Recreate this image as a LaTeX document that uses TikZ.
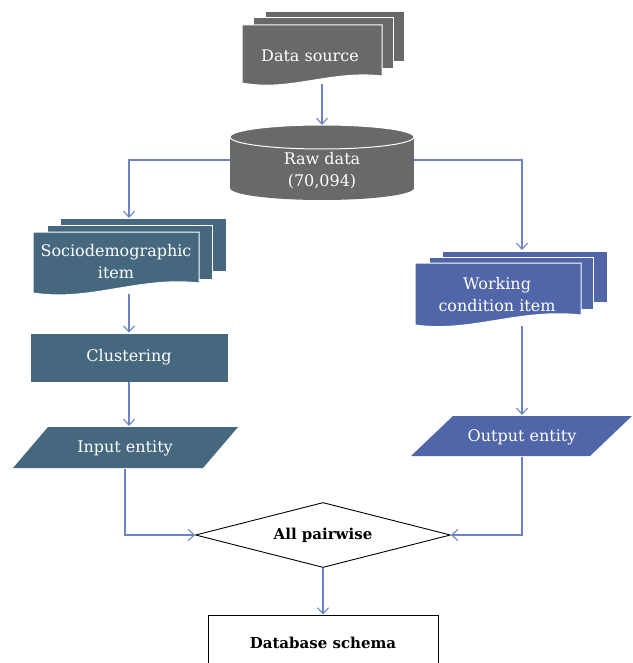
\documentclass[tikz,border=0pt]{standalone}
\usepackage{fontspec}
\setmainfont{DejaVu Serif}
\usetikzlibrary{shapes.geometric,arrows.meta}
\definecolor{graybox}{HTML}{696969}
\definecolor{tealbox}{HTML}{46687F}
\definecolor{bluebox}{HTML}{5066A8}
\definecolor{conncol}{HTML}{6C84C6}
\begin{document}
\begin{tikzpicture}[x=1pt,y=-1pt,
  font=\fontsize{16}{22}\selectfont,
  conn/.style={draw=conncol, line width=1.1pt, -{Straight Barb[length=6pt,width=11pt]}},
  sheet/.style={draw=white, line width=1pt},
  lbl/.style={text=white, align=center, inner sep=0pt},
  blk/.style={text=black, align=center, font=\fontsize{15}{22}\selectfont\bfseries}]
\useasboundingbox (0,0) rectangle (632,663);
\clip (0,0) rectangle (632,663);
% ---------- Data source ----------
\fill[graybox,sheet] (265,12) rectangle (404,62);
\fill[graybox,sheet] (253,18) rectangle (393,69);
\fill[graybox,sheet] (242,25) -- (382,25) -- (382,76) .. controls (330,70) and (290,92) .. (242,83) -- cycle;
\node[lbl] (ds) at (310,56) {Data source};
\coordinate (dsb) at (322,84);
% ---------- Raw data cylinder ----------
\fill[graybox] (322,188) ellipse [x radius=92, y radius=12];
\fill[graybox] (230,137) rectangle (414,188);
\filldraw[fill=graybox, draw=white, line width=1pt] (322,137) ellipse [x radius=92, y radius=12];
\node[lbl] (raw) at (322,171) {Raw data\\(70,094)};
\coordinate (rawt) at (322,125);
\coordinate (rawl) at (230,160);
\coordinate (rawr) at (414,160);
% ---------- Sociodemographic ----------
\fill[tealbox,sheet] (60,218) rectangle (226,271);
\fill[tealbox,sheet] (47,225) rectangle (212,279);
\fill[tealbox,sheet] (33,232) -- (199,232) -- (199,283) .. controls (140,276) and (90,302) .. (33,293) -- cycle;
\node[lbl] (soc) at (116,262) {Sociodemographic\\item};
\coordinate (soct) at (129,218);
\coordinate (socb) at (129,294);
% ---------- Clustering ----------
\node[fill=tealbox, draw=white, line width=0.8pt, minimum width=198pt, minimum height=49pt, text=white, inner sep=0pt] (clu) at (129,357.5) {Clustering};
% ---------- Input entity ----------
\fill[tealbox] (48,427) -- (238,427) -- (203,468) -- (13,468) -- cycle;
\node[lbl] (inp) at (125,448) {Input entity};
\coordinate (inpt) at (129,426);
\coordinate (inpb) at (125,469);
% ---------- Working condition ----------
\fill[bluebox,sheet] (442,251) rectangle (607,302);
\fill[bluebox,sheet] (429,257) rectangle (593,309);
\fill[bluebox,sheet] (415,263) -- (581,263) -- (581,315) .. controls (520,308) and (470,333) .. (415,325) -- cycle;
\node[lbl] (wrk) at (497,295) {Working\\condition item};
\coordinate (wrkt) at (522,250);
\coordinate (wrkb) at (522,326);
% ---------- Output entity ----------
\fill[bluebox] (453,416) -- (632,416) -- (590,456) -- (411,456) -- cycle;
\node[lbl] (out) at (522,437) {Output entity};
\coordinate (outt) at (522,415);
\coordinate (outb) at (522,457);
% ---------- All pairwise ----------
\node[diamond, draw=black, line width=0.9pt, aspect=3.92, minimum width=255pt, minimum height=65pt, inner sep=0pt, blk] (pw) at (323,535) {All pairwise};
% ---------- Database schema ----------
\node[draw=black, line width=0.9pt, minimum width=230pt, minimum height=56pt, inner sep=0pt, blk] (db) at (323,643) {Database schema};
% ---------- connectors ----------
\draw[conn] (dsb) -- (rawt);
\draw[conn] (rawl) -| (soct);
\draw[conn] (rawr) -| (wrkt);
\draw[conn] (socb) -- (clu.north);
\draw[conn] (clu.south) -- (inpt);
\draw[conn] (wrkb) -- (outt);
\draw[conn] (inpb) |- (pw.west);
\draw[conn] (outb) |- (pw.east);
\draw[conn] (pw.south) -- (db.north);
\end{tikzpicture}
\end{document}
